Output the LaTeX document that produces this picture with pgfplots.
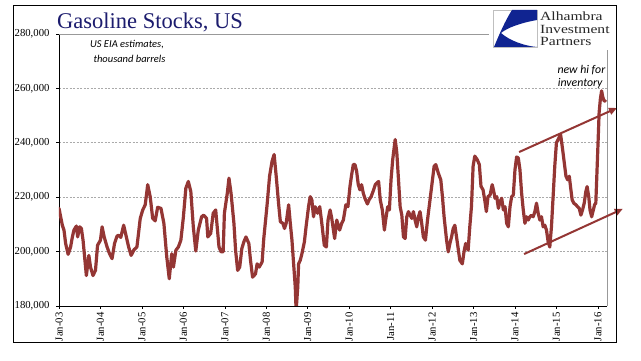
\documentclass[border=0pt]{standalone}
\usepackage{pgfplots}
\usepackage{pgfplotstable}
\pgfplotsset{compat=1.18}
\usetikzlibrary{arrows.meta}
\usepackage{fontspec}
\setmainfont{Liberation Serif}
\newfontfamily\calibri{Carlito}
\definecolor{linered}{RGB}{148,54,52}
\definecolor{titleblue}{RGB}{28,28,110}
\definecolor{logoblue}{RGB}{16,36,145}
\definecolor{gridgray}{RGB}{170,170,170}

\pgfplotstableread{
yr val
2003.00 215900
2003.04 212800
2003.08 209700
2003.12 207900
2003.16 203000
2003.22 199000
2003.28 201700
2003.32 205200
2003.36 207900
2003.42 209400
2003.45 205400
2003.50 209100
2003.54 208500
2003.58 204200
2003.66 191200
2003.72 198600
2003.76 194300
2003.82 191200
2003.88 193100
2003.93 202300
2004.00 204200
2004.04 209100
2004.09 205400
2004.16 201700
2004.22 199200
2004.28 197400
2004.34 203000
2004.40 205700
2004.44 206000
2004.49 205200
2004.56 209700
2004.62 205700
2004.68 201700
2004.74 198600
2004.81 200700
2004.88 201700
2004.96 212200
2005.02 215300
2005.08 217200
2005.14 224600
2005.20 220200
2005.26 212200
2005.32 211300
2005.38 216300
2005.46 215900
2005.53 210400
2005.60 198000
2005.66 190000
2005.72 199200
2005.76 194300
2005.82 200500
2005.88 201700
2005.94 204200
2006.00 212600
2006.06 223300
2006.12 225800
2006.18 222100
2006.24 209100
2006.30 200200
2006.36 207900
2006.44 212800
2006.49 213400
2006.56 212200
2006.59 205400
2006.66 206700
2006.72 214100
2006.78 215300
2006.82 208500
2006.86 201700
2006.91 199900
2006.96 199900
2006.99 214100
2007.06 221500
2007.10 227000
2007.15 221500
2007.22 210400
2007.26 200500
2007.31 193100
2007.36 194300
2007.41 201100
2007.46 203600
2007.51 205400
2007.58 203000
2007.62 196800
2007.67 190600
2007.74 191800
2007.78 195500
2007.83 194300
2007.90 196200
2007.94 204800
2008.02 217200
2008.08 227700
2008.14 233200
2008.19 235700
2008.24 227700
2008.30 217200
2008.34 211000
2008.40 210400
2008.44 208500
2008.48 210400
2008.54 217200
2008.58 210400
2008.62 204200
2008.66 195500
2008.70 186900
2008.72 178300
2008.76 186900
2008.78 195500
2008.82 196800
2008.86 199200
2008.92 203600
2008.96 209100
2009.02 216500
2009.06 220200
2009.10 219000
2009.14 212800
2009.18 216500
2009.24 214100
2009.29 216500
2009.34 210400
2009.40 202300
2009.45 201700
2009.49 211600
2009.54 215300
2009.58 212200
2009.65 204800
2009.70 211600
2009.77 207900
2009.82 210400
2009.86 211600
2009.92 217200
2009.97 216500
2010.02 224000
2010.06 228300
2010.10 232000
2010.14 232000
2010.18 229500
2010.22 224600
2010.26 222700
2010.30 224600
2010.34 221500
2010.38 219600
2010.44 217500
2010.48 219000
2010.53 220200
2010.59 222700
2010.63 224600
2010.67 225200
2010.71 225800
2010.75 219000
2010.80 215300
2010.85 207900
2010.88 211600
2010.93 216500
2010.97 215300
2011.01 226400
2011.05 233800
2011.11 241200
2011.15 236300
2011.19 226400
2011.23 216500
2011.27 213400
2011.31 205400
2011.35 204800
2011.39 212800
2011.43 214700
2011.47 213400
2011.51 212200
2011.55 214700
2011.59 211600
2011.63 209100
2011.67 212800
2011.71 214700
2011.75 210400
2011.79 205400
2011.84 204200
2011.89 211600
2011.95 219000
2012.00 225200
2012.05 231400
2012.09 232000
2012.15 228900
2012.21 226400
2012.25 220200
2012.29 212800
2012.35 204200
2012.39 199900
2012.43 203000
2012.47 205400
2012.51 208500
2012.55 209700
2012.59 205400
2012.63 201100
2012.67 196800
2012.73 195500
2012.77 199900
2012.81 203000
2012.87 200500
2012.91 209100
2012.95 216500
2012.99 231400
2013.03 235100
2013.09 233800
2013.14 232000
2013.18 224000
2013.23 222700
2013.27 219000
2013.31 214700
2013.35 220200
2013.40 220800
2013.45 224600
2013.48 222700
2013.52 219600
2013.56 220200
2013.60 215900
2013.64 218400
2013.68 219600
2013.72 215300
2013.76 216500
2013.80 210400
2013.84 209100
2013.88 216500
2013.92 220200
2013.96 220800
2014.00 230100
2014.04 234800
2014.08 234400
2014.12 230100
2014.16 221500
2014.20 215300
2014.24 210400
2014.28 212800
2014.32 211600
2014.36 212800
2014.40 213400
2014.44 212800
2014.48 214700
2014.52 217800
2014.56 214100
2014.60 211600
2014.64 212800
2014.68 209100
2014.72 209700
2014.76 207900
2014.80 203600
2014.84 201700
2014.88 209100
2014.92 220200
2014.96 231400
2015.00 240000
2015.04 241200
2015.08 242500
2015.10 243100
2015.15 237500
2015.18 233800
2015.23 227700
2015.27 226400
2015.31 227700
2015.34 223900
2015.38 219000
2015.42 217800
2015.47 217200
2015.51 216500
2015.55 215900
2015.59 213400
2015.63 215300
2015.67 217800
2015.71 222100
2015.74 223900
2015.78 220200
2015.81 215300
2015.85 212800
2015.89 215300
2015.92 217200
2015.95 217800
2015.98 230100
2016.01 242500
2016.03 251100
2016.06 256100
2016.09 259100
2016.12 256700
2016.15 255400
2016.18 255400
}\gasdata

\begin{document}
\begin{tikzpicture}[x=1pt,y=1pt]
\path[use as bounding box, fill=white] (0,0) rectangle (641,361);
\begin{axis}[
  name=ax,
  at={(59pt,55pt)}, anchor=south west,
  scale only axis, width=548pt, height=272pt,
  xmin=2003, xmax=2016.22, ymin=180000, ymax=280000,
  axis lines=left, axis line style={-, black, line width=0.9pt},
  tick align=outside, major tick length=3pt,
  tick style={black, line width=0.6pt},
  xtick={2003,2004,2005,2006,2007,2008,2009,2010,2011,2012,2013,2014,2015,2016},
  xticklabels={Jan-03,Jan-04,Jan-05,Jan-06,Jan-07,Jan-08,Jan-09,Jan-10,Jan-11,Jan-12,Jan-13,Jan-14,Jan-15,Jan-16},
  x tick label style={rotate=90, anchor=east, font=\fontsize{10.7}{12}\selectfont},
  ytick={180000,200000,220000,240000,260000,280000},
  y tick label style={font=\fontsize{10.7}{12}\selectfont, xshift=-3pt},
  scaled y ticks=false,
  /pgf/number format/assume math mode=true,
  /pgf/number format/1000 sep={,},
  /pgf/number format/fixed,
  ymajorgrids,
  major grid style={gridgray, dash pattern=on 2pt off 1.5pt, line width=0.6pt},
]
\addplot[linered, line width=3.2pt, line join=round, line cap=round] table[x=yr,y=val]{\gasdata};
\coordinate (u1) at (axis cs:2014.10,236600);
\coordinate (u2) at (axis cs:2016.46,252800);
\coordinate (l1) at (axis cs:2014.22,199100);
\coordinate (l2) at (axis cs:2016.60,215700);
\end{axis}
% top and right plot-area borders
\draw[gridgray!90!black, line width=0.8pt] (ax.north west) -- (ax.north east) -- (ax.south east);
% arrows
\draw[linered, line width=2pt, -{Triangle[length=8pt,width=7pt]}] (u1) -- (u2);
\draw[linered, line width=2pt, -{Triangle[length=8pt,width=7pt]}] (l1) -- (l2);
% outer border
\draw[black, line width=1pt] (13,18) rectangle (616,355);
% title
\node[anchor=base west, text=titleblue, inner sep=0, font=\fontsize{22.5}{26}\selectfont] at (57,332.7) {Gasoline Stocks, US};
% note
\node[anchor=base, inner sep=0, font=\calibri\itshape\fontsize{10.5}{12}\selectfont] at (127,313.3) {US EIA estimates,};
\node[anchor=base, inner sep=0, font=\calibri\itshape\fontsize{10.5}{12}\selectfont] at (129.5,298) {thousand barrels};
\node[anchor=base east, inner sep=0, font=\calibri\itshape\fontsize{11.8}{13}\selectfont] at (605.5,287.7) {new hi for};
\node[anchor=base east, inner sep=0, font=\calibri\itshape\fontsize{11.8}{13}\selectfont] at (602.7,274) {inventory};
% logo
\fill[white] (489,311) rectangle (612,353);
\draw[gray!50, line width=0.6pt] (493,314) rectangle (537,351);
\fill[logoblue] (512,351) -- (537,351) -- (537,341) .. controls (520,338) and (507,333) .. (501,328) .. controls (510,320) and (525,315) .. (537,314) -- (494,314) .. controls (499,326) and (505,340) .. (512,351) -- cycle;
\node[anchor=base west, inner sep=0, text={rgb,255:red,40;green,40;blue,40}, font=\fontsize{12.5}{14}\selectfont] at (540,340) {\scalebox{1.25}[1]{Alhambra}};
\node[anchor=base west, inner sep=0, text={rgb,255:red,40;green,40;blue,40}, font=\fontsize{12.5}{14}\selectfont] at (540,327.7) {\scalebox{1.25}[1]{Investment}};
\node[anchor=base west, inner sep=0, text={rgb,255:red,40;green,40;blue,40}, font=\fontsize{12.5}{14}\selectfont] at (540,315.3) {\scalebox{1.25}[1]{Partners}};
\end{tikzpicture}
\end{document}
